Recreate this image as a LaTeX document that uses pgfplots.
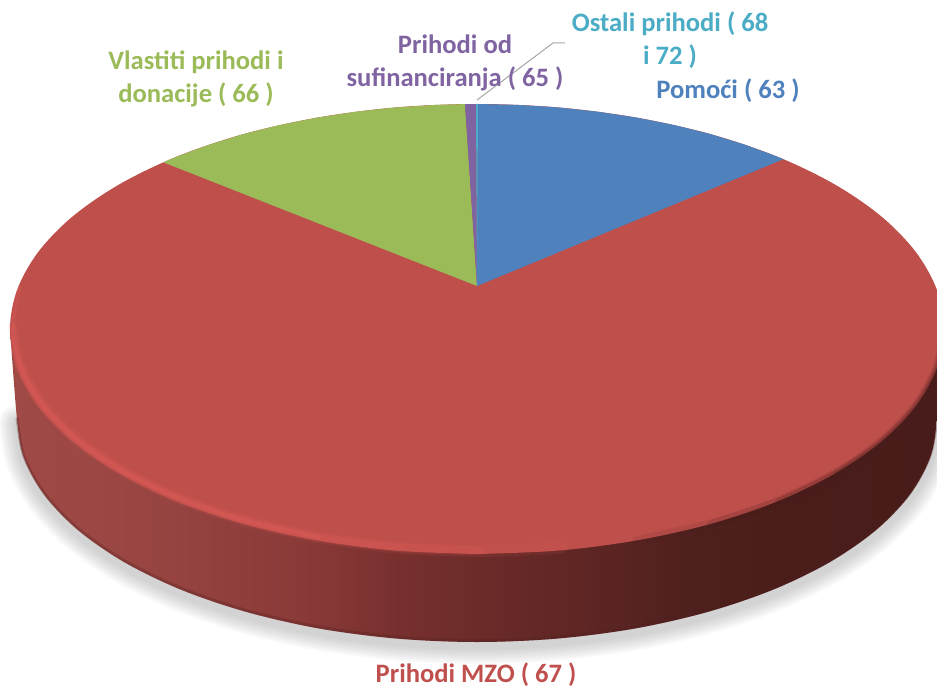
\documentclass[border=0pt]{standalone}
\usepackage{pgfplots}
\usepackage{pgfplotstable}
\usepackage{fontspec}
\setmainfont{Carlito}
\pgfplotsset{compat=1.18}
\definecolor{cBlue}{HTML}{4F81BD}
\definecolor{cRed}{HTML}{C0504D}
\definecolor{cFace}{HTML}{BE4F4B}
\definecolor{cGreen}{HTML}{9BBB59}
\definecolor{cPurple}{HTML}{8064A2}
\definecolor{cTeal}{HTML}{4BACC6}
\definecolor{cHi}{HTML}{E8625E}
\definecolor{sA}{HTML}{A04A46}
\definecolor{sB}{HTML}{984542}
\definecolor{sC}{HTML}{8A3A38}
\definecolor{sD}{HTML}{77302E}
\definecolor{sE}{HTML}{6B2B29}
\definecolor{sF}{HTML}{5C2523}
\definecolor{sG}{HTML}{4D1F1D}
\definecolor{sH}{HTML}{4A1D1B}
\definecolor{sI}{HTML}{481C1A}
\pgfdeclarehorizontalshading{sidegrad}{100bp}{color(0bp)=(sA); color(25bp)=(sA); color(32.5bp)=(sB); color(40.5bp)=(sC); color(45.9bp)=(sD); color(50.2bp)=(sE); color(56.6bp)=(sF); color(62bp)=(sG); color(67.3bp)=(sH); color(75bp)=(sI); color(100bp)=(sI)}
\tikzset{lab/.style={font=\fontsize{26.6}{33}\selectfont\bfseries, inner sep=0pt, align=center}}
\pgfplotstableread{
x y
38.2 252
17.1 289.9
10 329
17.1 368.1
38.2 406
72.6 441.5
119.3 473.6
176.8 501.4
243.5 523.9
317.3 540.4
395.9 550.6
477 554
558.1 550.6
636.7 540.4
710.5 523.9
777.2 501.4
834.7 473.6
881.4 441.5
915.8 406
936.9 368.1
944 329
}\rimtable
\pgfplotstableread{
x y
477 554
558.1 550.6
636.7 540.4
710.5 523.9
777.2 501.4
834.7 473.6
881.4 441.5
915.8 406
936.9 368.1
944 329
936.9 289.9
915.8 252
881.4 216.5
834.7 184.4
777.2 156.6
710.5 134.1
636.7 117.6
558.1 107.4
477 104
395.9 107.4
317.3 117.6
243.5 134.1
176.8 156.6
119.3 184.4
72.6 216.5
38.2 252
17.1 289.9
10 329
17.1 368.1
38.2 406
72.6 441.5
119.3 473.6
176.8 501.4
243.5 523.9
317.3 540.4
395.9 550.6
477 554
}\facetable
\pgfplotstableread{
x y
10 329
17 419
23.9 457.7
44.7 495.3
78.6 530.5
124.6 562.3
181.3 589.8
247 612.1
319.7 628.6
397.1 638.6
477 642
556.9 638.6
634.3 628.6
707 612.1
772.7 589.8
829.4 562.3
875.4 530.5
909.3 495.3
930 457.7
937 419
944 329
}\sidetable
\pgfplotstableread{
x y
17 419
23.9 457.7
44.7 495.3
78.6 530.5
124.6 562.3
181.3 589.8
247 612.1
319.7 628.6
397.1 638.6
477 642
556.9 638.6
634.3 628.6
707 612.1
772.7 589.8
829.4 562.3
875.4 530.5
909.3 495.3
930 457.7
937 419
}\shadowtable
\begin{document}
\begin{tikzpicture}
\useasboundingbox (0,0) rectangle (937pt,690pt);
\begin{axis}[
  at={(0,0)}, anchor=south west,
  scale only axis, width=937pt, height=690pt,
  xmin=0, xmax=937, ymin=0, ymax=690, y dir=reverse,
  hide axis,
]
% soft shadow
\pgfplotsinvokeforeach{36,32,28,24,20,16,12,8}{
  \addplot[draw=black, opacity=0.022, line width=#1pt, smooth, line cap=round, yshift=-4pt] table {\shadowtable};
}
% side wall
\addplot[draw=none, shading=sidegrad, smooth, tension=0.55] table {\sidetable};
\addplot[draw=sE!75!black, opacity=0.3, line width=3pt, smooth, yshift=1.5pt] table {\shadowtable};
% top face
\addplot[draw=none, fill=cFace, smooth, tension=0.55] table {\facetable};
% slices
\addplot[draw=none, fill=cBlue] coordinates {(477,286) (477,104) (517.7,104.9) (558.1,107.4) (597.9,111.7) (636.7,117.6) (674.4,125.1) (710.5,134.1) (744.9,144.7) (777.2,156.6) (783.4,159.2)};
\addplot[draw=none, fill=cGreen] coordinates {(477,286) (465,104.1) (436.3,104.9) (395.9,107.4) (356.1,111.7) (317.3,117.6) (279.6,125.1) (243.5,134.1) (209.1,144.7) (176.8,156.6) (163.3,162.3)};
\addplot[draw=none, fill=cPurple] coordinates {(477,286) (465,104.1) (476,104)};
\addplot[draw=none, fill=cTeal] coordinates {(477,286) (476,104) (478,104)};
% bevel highlight
\addplot[draw=cHi, opacity=0.10, line width=12pt, smooth, line cap=round, xshift=3pt, yshift=3pt, skip coords between index={0}{3}, skip coords between index={13}{21}] table {\rimtable};
\addplot[draw=cHi, opacity=0.14, line width=9pt, smooth, line cap=round, xshift=3pt, yshift=3pt, skip coords between index={0}{2}, skip coords between index={12}{21}] table {\rimtable};
\addplot[draw=cHi, opacity=0.18, line width=6pt, smooth, line cap=round, xshift=3pt, yshift=3pt, skip coords between index={0}{2}, skip coords between index={11}{21}] table {\rimtable};
\addplot[draw=cHi, opacity=0.22, line width=3.5pt, smooth, line cap=round, xshift=3pt, yshift=3pt, skip coords between index={0}{1}, skip coords between index={10}{21}] table {\rimtable};
% dark edge at lower right
\addplot[draw=sI, opacity=0.10, line width=9pt, smooth, line cap=round, skip coords between index={0}{13}] table {\rimtable};
\addplot[draw=sI, opacity=0.12, line width=7pt, smooth, line cap=round, skip coords between index={0}{14}] table {\rimtable};
\addplot[draw=sI, opacity=0.16, line width=5pt, smooth, line cap=round, skip coords between index={0}{15}] table {\rimtable};
\addplot[draw=sI, opacity=0.20, line width=3pt, smooth, line cap=round, skip coords between index={0}{16}] table {\rimtable};
% leader line
\addplot[draw=black!35, line width=1pt] coordinates {(477,100) (553,43) (565,43)};
% labels
\node[lab, text=cGreen] at (axis cs:196,79) {Vlastiti prihodi i\\donacije ( 66 )};
\node[lab, text=cPurple] at (axis cs:455,62.5) {Prihodi od\\sufinanciranja ( 65 )};
\node[lab, text=cTeal] at (axis cs:670,40.5) {Ostali prihodi ( 68\\i 72 )};
\node[lab, text=cBlue] at (axis cs:728,90.5) {Pomoći ( 63 )};
\node[lab, text=cRed] at (axis cs:476,674.5) {Prihodi MZO ( 67 )};
\end{axis}
\end{tikzpicture}
\end{document}
